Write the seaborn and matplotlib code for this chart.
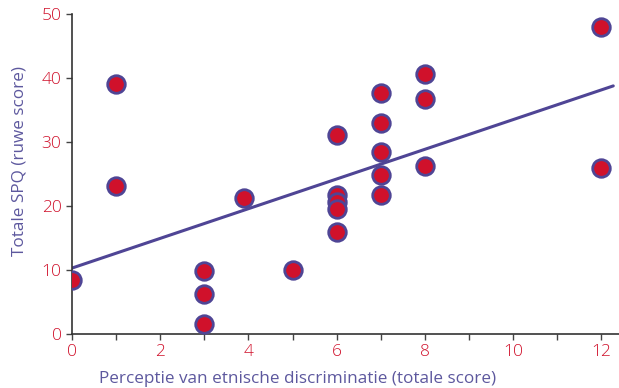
import numpy as np
import pandas as pd
import matplotlib
matplotlib.use('Agg')
import matplotlib.pyplot as plt
import seaborn as sns

# data
discriminatie = [0, 1, 1, 3, 3, 3, 3.9, 5,
                 6, 6, 6, 6, 6,
                 7, 7, 7, 7, 7,
                 8, 8, 8, 12, 12]
spq = [8.4, 39.1, 23.1, 9.9, 6.2, 1.6, 21.3, 10.0,
       31.1, 21.7, 20.7, 19.6, 15.9,
       37.6, 32.9, 28.5, 24.8, 21.7,
       40.7, 36.7, 26.2, 48.0, 25.9]
# regression line as printed
fit_intercept = 10.3
fit_slope = 2.32
fit_range = [0, 12.27]

x_ticks = list(range(0, 13))
x_labels = [str(t) if t % 2 == 0 else '' for t in x_ticks]
y_ticks = [0, 10, 20, 30, 40, 50]

RED = '#d0112b'
PURPLE = '#4f4595'
LABEL = '#5d589e'

sns.set_style('ticks')
plt.rcParams['font.family'] = ['Open Sans', 'DejaVu Sans']

df = pd.DataFrame({'x': discriminatie, 'y': spq})
fx = np.array(fit_range)
line_df = pd.DataFrame({'x': fx, 'y': fit_intercept + fit_slope * fx})

fig = plt.figure(figsize=(6.19, 3.88), dpi=100)
ax = fig.add_axes([0.1163, 0.1392, 0.8837, 0.8247])

sns.lineplot(data=line_df, x='x', y='y', ax=ax, color=PURPLE, lw=2.2, zorder=2)
sns.scatterplot(data=df, x='x', y='y', ax=ax, s=160, color=RED,
                edgecolor=PURPLE, linewidth=2.0, zorder=3)

ax.set_xlim(0, 12.4)
ax.set_ylim(0, 50)
ax.set_xticks(x_ticks)
ax.set_xticklabels(x_labels)
ax.set_yticks(y_ticks)
ax.tick_params(axis='both', colors='#444444', labelcolor=RED, labelsize=12.5,
               length=4, width=1)
for lab in ax.get_xticklabels() + ax.get_yticklabels():
    lab.set_fontweight('light')

ax.set_xlabel('Perceptie van etnische discriminatie (totale score)',
              color=LABEL, fontsize=12.3)
ax.set_ylabel('Totale SPQ (ruwe score)', color=LABEL, fontsize=12.3)
ax.xaxis.set_label_coords(0.413, -0.115)
ax.yaxis.set_label_coords(-0.082, 0.54)

for side in ['top', 'right']:
    ax.spines[side].set_visible(False)
for side in ['left', 'bottom']:
    ax.spines[side].set_color('#333333')
    ax.spines[side].set_linewidth(1.2)

plt.savefig('out.png', dpi=100)
